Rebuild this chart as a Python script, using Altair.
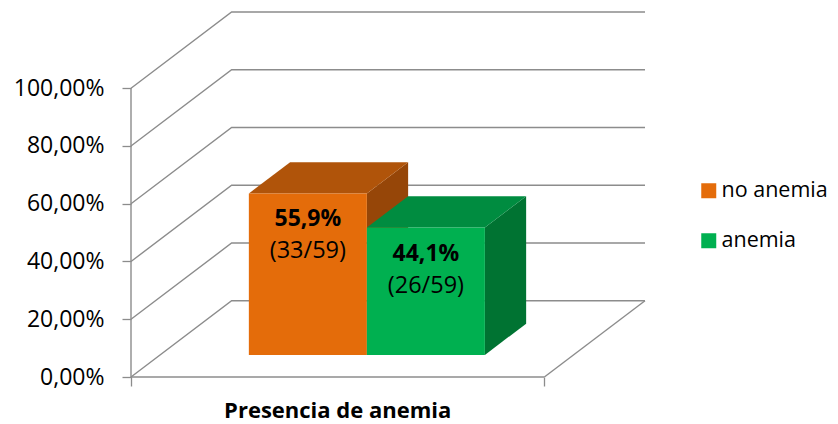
import altair as alt
import pandas as pd

# ---------------- data ----------------
categories = ["no anemia", "anemia"]
percentages = [55.9, 44.1]
counts = [33, 26]
totals = [59, 59]
y_ticks = [0, 20, 40, 60, 80, 100]
axis_title = "Presencia de anemia"

# ---------------- style ----------------
front_colors = ["#E46C0A", "#00B050"]
top_colors = ["#B0540A", "#008C40"]
side_colors = ["#964608", "#007332"]
GRID = "#8C8C8C"
FONT = "Open Sans"

# oblique projection of the Excel 3D chart (depth shift of the back wall)
DEPTH_DX = 0.2434   # in widths of the front plane
DEPTH_DY = 26.4     # in percent units
BAR_D0, BAR_D1 = 0.29, 0.70
BAR_W = 0.2855

xs = alt.Scale(domain=[0, 1 + DEPTH_DX], nice=False, zero=False)
ys = alt.Scale(domain=[0, 100 + DEPTH_DY], nice=False, zero=False)

x_axis = alt.Axis(values=[0, 1], labels=False, domain=False, grid=False,
                  tickSize=9, tickColor=GRID, tickWidth=1.3, title=None)
y_axis = alt.Axis(values=y_ticks, domain=False, grid=False,
                  labelExpr="replace(format(datum.value/100, '.2%'), '.', ',')",
                  tickSize=9, tickColor=GRID, tickWidth=1.3,
                  labelFont=FONT, labelFontSize=23, labelColor="#000000",
                  labelPadding=18, title=None)

X = alt.X("x:Q", scale=xs, axis=x_axis)
Y = alt.Y("y:Q", scale=ys, axis=y_axis)

# ---------------- walls / gridlines ----------------
rows = []
for k in y_ticks:
    pts = [(0, k), (DEPTH_DX, k + DEPTH_DY), (1 + DEPTH_DX, k + DEPTH_DY)]
    for o, (px, py) in enumerate(pts):
        rows.append({"line": f"g{k}", "o": o, "x": px, "y": py})
for name, pts in {
    "yaxis": [(0, 0), (0, 100)],
    "floor_front": [(0, 0), (1, 0)],
    "floor_right": [(1, 0), (1 + DEPTH_DX, DEPTH_DY)],
}.items():
    for o, (px, py) in enumerate(pts):
        rows.append({"line": name, "o": o, "x": px, "y": py})
grid_df = pd.DataFrame(rows)

grid = alt.Chart(grid_df).mark_line(color=GRID, strokeWidth=1.4).encode(
    x=X, y=Y, detail="line:N", order="o:Q")

layers = [grid]

# ---------------- bars ----------------
n = len(categories)
color_scale = alt.Scale(domain=categories, range=front_colors)
legend = alt.Legend(orient="none", legendX=567, legendY=168, title=None,
                    symbolType="square", symbolSize=225, symbolStrokeWidth=0,
                    labelFont=FONT, labelFontSize=21.5, labelColor="#000000",
                    labelOffset=2, rowPadding=27)

text_rows = []
for i, (cat, v) in enumerate(zip(categories, percentages)):
    L = 0.5 - n * BAR_W / 2 + i * BAR_W
    R = L + BAR_W
    sx0, sy0 = BAR_D0 * DEPTH_DX, BAR_D0 * DEPTH_DY
    sx1, sy1 = BAR_D1 * DEPTH_DX, BAR_D1 * DEPTH_DY

    side = pd.DataFrame({"x": [R + sx0, R + sx1], "y": [sy0, sy1],
                         "y2": [sy0 + v, sy1 + v]})
    layers.append(alt.Chart(side).mark_area(orient="vertical", color=side_colors[i])
                  .encode(x=X, y=Y, y2="y2:Q"))

    top = pd.DataFrame({"y": [sy0 + v, sy1 + v], "x": [L + sx0, L + sx1],
                        "x2": [R + sx0, R + sx1]})
    layers.append(alt.Chart(top).mark_area(orient="horizontal", color=top_colors[i])
                  .encode(y=Y, x=X, x2="x2:Q"))

    front = pd.DataFrame({"cat": [cat], "x": [L + sx0], "x2": [R + sx0],
                          "y": [sy0], "y2": [sy0 + v]})
    layers.append(alt.Chart(front).mark_rect().encode(
        x=X, x2="x2:Q", y=Y, y2="y2:Q",
        color=alt.Color("cat:N", scale=color_scale, legend=legend)))

    text_rows.append({"x": (L + R) / 2 + sx0, "y": sy0 + v,
                      "pct": f"{v:.1f}%".replace(".", ","),
                      "frac": f"({counts[i]}/{totals[i]})"})

text_df = pd.DataFrame(text_rows)
layers.append(alt.Chart(text_df).mark_text(font=FONT, fontSize=23, fontWeight="bold",
                                           color="#000000", baseline="middle", dy=26)
              .encode(x=X, y=Y, text="pct:N"))
layers.append(alt.Chart(text_df).mark_text(font=FONT, fontSize=23.5, color="#000000",
                                           baseline="middle", dy=58)
              .encode(x=X, y=Y, text="frac:N"))

title_df = pd.DataFrame({"x": [0.5], "y": [0], "t": [axis_title]})
layers.append(alt.Chart(title_df).mark_text(font=FONT, fontSize=22, fontWeight="bold",
                                            color="#000000", baseline="middle", dy=34)
              .encode(x=X, y=Y, text="t:N"))

chart = alt.layer(*layers).properties(
    width=514, height=365,
    background="white",
    autosize=alt.AutoSizeParams(type="none"),
    padding={"left": 123, "top": 4, "right": 185, "bottom": 48},
).configure_view(strokeWidth=0, stroke="transparent")

chart.save("out.html", embed_options={"renderer": "svg", "actions": False})
